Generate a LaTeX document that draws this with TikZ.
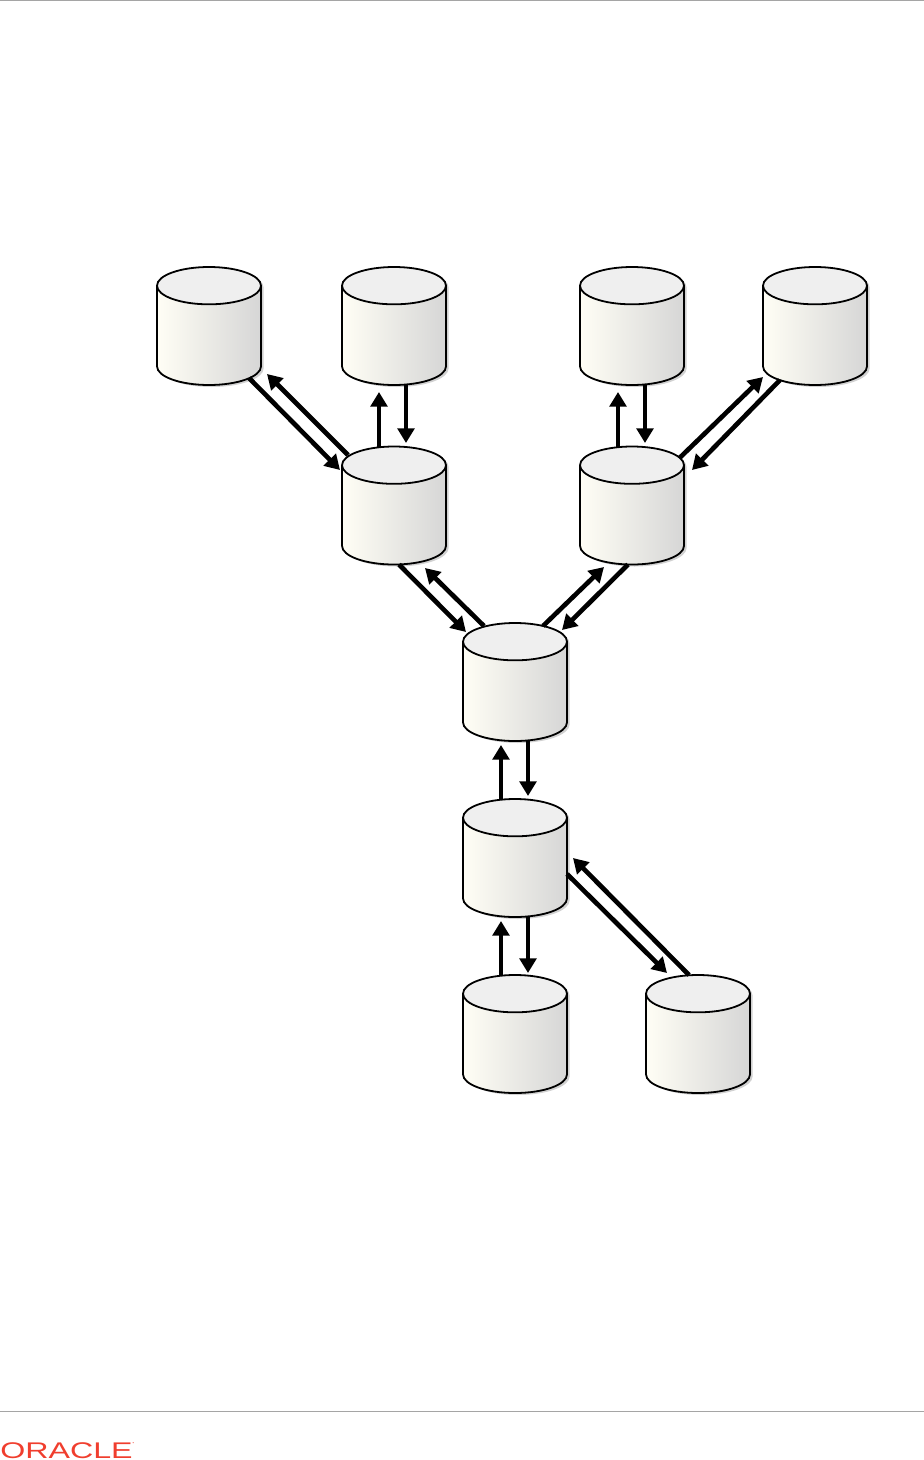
\documentclass[tikz,border=0pt]{standalone}
\usepackage{fontspec}
\setsansfont{Liberation Sans}
\usetikzlibrary{shapes.geometric,shadows,calc,arrows.meta}

\definecolor{dbleft}{RGB}{255,254,245}
\definecolor{dbmid}{RGB}{243,243,236}
\definecolor{dbright}{RGB}{214,214,214}
\definecolor{dbtop}{RGB}{239,239,239}
\definecolor{oraclered}{RGB}{240,62,46}
\definecolor{ruleline}{RGB}{165,165,165}

\tikzset{
  dbnode/.style={cylinder, shape border rotate=90, shape aspect=3.5, inner sep=4pt,
    draw=black, line width=1.35pt, outer sep=0pt, anchor=shape center,
    minimum width=78pt, minimum height=88.5pt,
    left color=dbleft, middle color=dbmid, right color=dbright,
    general shadow={shadow xshift=2pt, shadow yshift=-1.5pt, fill=black, opacity=0.18},
    path picture={
      \fill[dbtop] ($(path picture bounding box.north)+(0pt,-14.2pt)$)
        ellipse [x radius=39pt, y radius=14.2pt];
    }},
  flow/.style={line width=3.5pt, -{Triangle[length=11pt, width=12.5pt]}},
}

\begin{document}
\begin{tikzpicture}[x=0.75pt, y=-0.75pt]
  \useasboundingbox (0,0) rectangle (924,1460);
  \clip (0,0) rectangle (924,1460);

  \draw[ruleline, line width=1pt] (0,0.5) -- (924,0.5);
  \draw[ruleline, line width=1pt] (0,1411.5) -- (924,1411.5);

  \node[dbnode] (leafa) at (209,326) {};
  \node[dbnode] (leafb) at (394,326) {};
  \node[dbnode] (leafc) at (632,326) {};
  \node[dbnode] (leafd) at (815,326) {};
  \node[dbnode] (hubleft) at (394,505.5) {};
  \node[dbnode] (hubright) at (632,505.5) {};
  \node[dbnode] (master) at (515,682) {};
  \node[dbnode] (hublow) at (515,858) {};
  \node[dbnode] (leafe) at (515,1034) {};
  \node[dbnode] (leaff) at (698,1034) {};

  % from / offset / to / offset
  \foreach \src/\sx/\sy/\dst/\dx/\dy in {
    leafa/40/52/hubleft/-54/-35.5, hubleft/-46/-50.5/leafa/58/48,
    hubleft/-15/-58.5/leafb/-15/66, leafb/12/59/hubleft/12/-62.5,
    hubright/-14/-58.5/leafc/-14/66, leafc/13/59/hubright/13/-62.5,
    hubright/48/-48/leafd/-52/51, leafd/-35/54/hubright/60/-35.5,
    hubleft/5/59/master/-49/-50, master/-31/-56/hubleft/31/62.5,
    master/28/-56/hubright/-28/61.5, hubright/-4/59/master/47/-52,
    hublow/-14/-59/master/-14/63, master/13/59/hublow/13/-62,
    leafe/-14/-59/hublow/-14/63, hublow/13/59/leafe/13/-61,
    hublow/52/16/leaff/-31/-61, leaff/-9/-59/hublow/58/0}{
    \draw[flow] ($(\src.shape center)+(\sx,\sy)$) -- ($(\dst.shape center)+(\dx,\dy)$);
  }

  \node[anchor=base west, inner sep=0pt, text=oraclered] (logo) at (0,1458)
    {\sffamily\fontsize{17pt}{17pt}\selectfont\scalebox{1.42}[1]{ORACLE}\raisebox{10pt}{\fontsize{3pt}{3pt}\selectfont\textbullet}};
\end{tikzpicture}
\end{document}
